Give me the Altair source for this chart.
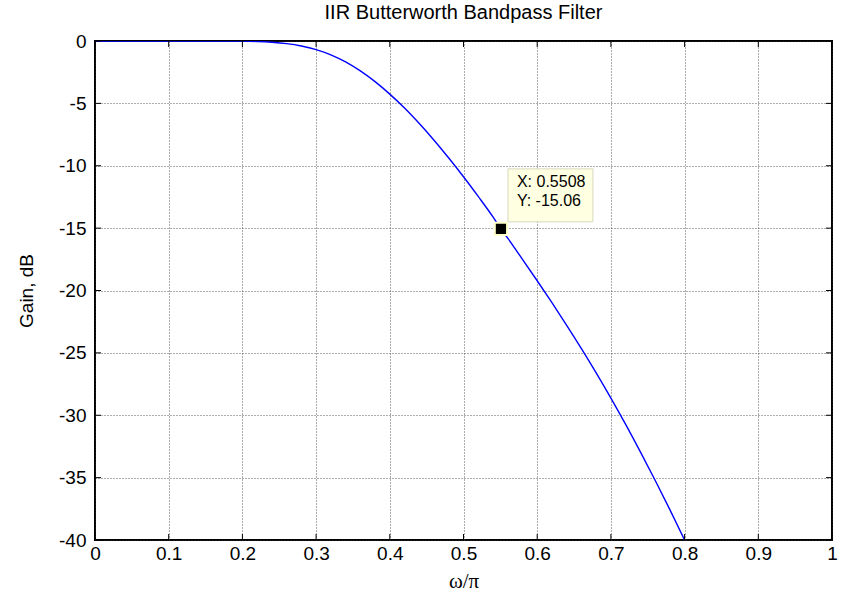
import altair as alt
import pandas as pd

# ---- data ----
omega = [0.0, 0.05, 0.10, 0.15, 0.18, 0.20, 0.22, 0.24, 0.26, 0.28, 0.30, 0.32,
         0.34, 0.36, 0.38, 0.40, 0.42, 0.44, 0.46, 0.48, 0.50, 0.52, 0.54,
         0.5508, 0.56, 0.58, 0.60, 0.62, 0.64, 0.66, 0.68, 0.70, 0.72, 0.74,
         0.76, 0.78, 0.80]
gain_db = [0.0, 0.0, 0.0, 0.0, 0.0, -0.01, -0.04, -0.10, -0.21, -0.40, -0.69, -1.11,
           -1.68, -2.40, -3.26, -4.26, -5.38, -6.62, -7.95, -9.38, -10.88, -12.46, -14.10,
           -15.06, -15.80, -17.50, -19.22, -20.98, -22.79, -24.66, -26.60, -28.62, -30.73,
           -32.93, -35.21, -37.57, -40.0]

x_ticks = [0.0, 0.1, 0.2, 0.3, 0.4, 0.5, 0.6, 0.7, 0.8, 0.9, 1.0]
y_ticks = [-40, -35, -30, -25, -20, -15, -10, -5, 0]

tip_x = [0.5508]
tip_y = [-15.06]
tip_lines = ["X: 0.5508", "Y: -15.06"]

W, H = 737, 499
FONT = "Liberation Sans"

curve = pd.DataFrame({"w": omega, "g": gain_db})
xt = pd.DataFrame({"w": x_ticks})
yt = pd.DataFrame({"g": y_ticks})
tip = pd.DataFrame({"w": tip_x, "g": tip_y})

xscale = alt.Scale(domain=[0, 1], nice=False, zero=False)
yscale = alt.Scale(domain=[-40, 0], nice=False, zero=False)

xaxis = alt.Axis(values=x_ticks, format=".1~f", grid=True, gridDash=[1, 2],
                 gridColor="#333", gridOpacity=0.8, gridWidth=1,
                 ticks=False, domain=False, labelFont=FONT, labelFontSize=19,
                 labelColor="black", labelPadding=4, labelFlush=False,
                 title="ω/π", titleFont="Liberation Serif", titleFontSize=21,
                 titleFontWeight="normal", titleColor="black", titlePadding=7)
yaxis = alt.Axis(values=y_ticks, labelExpr="datum.value + ''", grid=True,
                 gridDash=[1, 2], gridColor="#333", gridOpacity=0.8, gridWidth=1,
                 ticks=False, domain=False, labelFont=FONT, labelFontSize=19,
                 labelColor="black", labelPadding=9, labelFlush=False,
                 title="Gain, dB", titleFont=FONT, titleFontSize=19,
                 titleFontWeight="normal", titleColor="black", titlePadding=22)

X = alt.X("w:Q", scale=xscale, axis=xaxis)
Y = alt.Y("g:Q", scale=yscale, axis=yaxis)

line = alt.Chart(curve).mark_line(color="#0000ff", strokeWidth=1.4, clip=True,
                                  interpolate="monotone").encode(x=X, y=Y)

tick_len = 6
bottom_ticks = alt.Chart(xt).mark_rule(color="black", strokeWidth=1).encode(
    x=X, y=alt.value(H), y2=alt.value(H - tick_len))
top_ticks = alt.Chart(xt).mark_rule(color="black", strokeWidth=1).encode(
    x=X, y=alt.value(0), y2=alt.value(tick_len))
left_ticks = alt.Chart(yt).mark_rule(color="black", strokeWidth=1).encode(
    y=Y, x=alt.value(0), x2=alt.value(tick_len))
right_ticks = alt.Chart(yt).mark_rule(color="black", strokeWidth=1).encode(
    y=Y, x=alt.value(W), x2=alt.value(W - tick_len))

box = alt.Chart(tip).mark_rect(fill="#ffffe1", stroke="#d8d8c0", strokeWidth=1,
                               xOffset=7, x2Offset=92, yOffset=-60, y2Offset=-7).encode(
    x=X, x2="w:Q", y=Y, y2="g:Q")

marker = alt.Chart(tip).mark_point(shape="square", filled=True, fill="black",
                                   stroke="#ffffcc", strokeWidth=2, size=150,
                                   opacity=1).encode(x=X, y=Y)

tip_text1 = alt.Chart(tip).mark_text(text=tip_lines[0], align="left", baseline="alphabetic",
                                     dx=16, dy=-42, font=FONT, fontSize=16, color="black").encode(
    x=X, y=Y)
tip_text2 = alt.Chart(tip).mark_text(text=tip_lines[1], align="left", baseline="alphabetic",
                                     dx=16, dy=-23, font=FONT, fontSize=16, color="black").encode(
    x=X, y=Y)

chart = alt.layer(line, bottom_ticks, top_ticks, left_ticks, right_ticks,
                  box, marker, tip_text1, tip_text2).properties(
    width=W, height=H,
    title=alt.TitleParams("IIR Butterworth Bandpass Filter", font=FONT, fontSize=20,
                          fontWeight="normal", color="black", offset=9, anchor="middle"),
    autosize=alt.AutoSizeParams(type="none"),
    padding={"left": 95, "top": 41, "right": 13, "bottom": 53},
).configure(background="white").configure_view(stroke="black", strokeWidth=2)

chart.save("out.html", embed_options={"renderer": "svg", "actions": False})
